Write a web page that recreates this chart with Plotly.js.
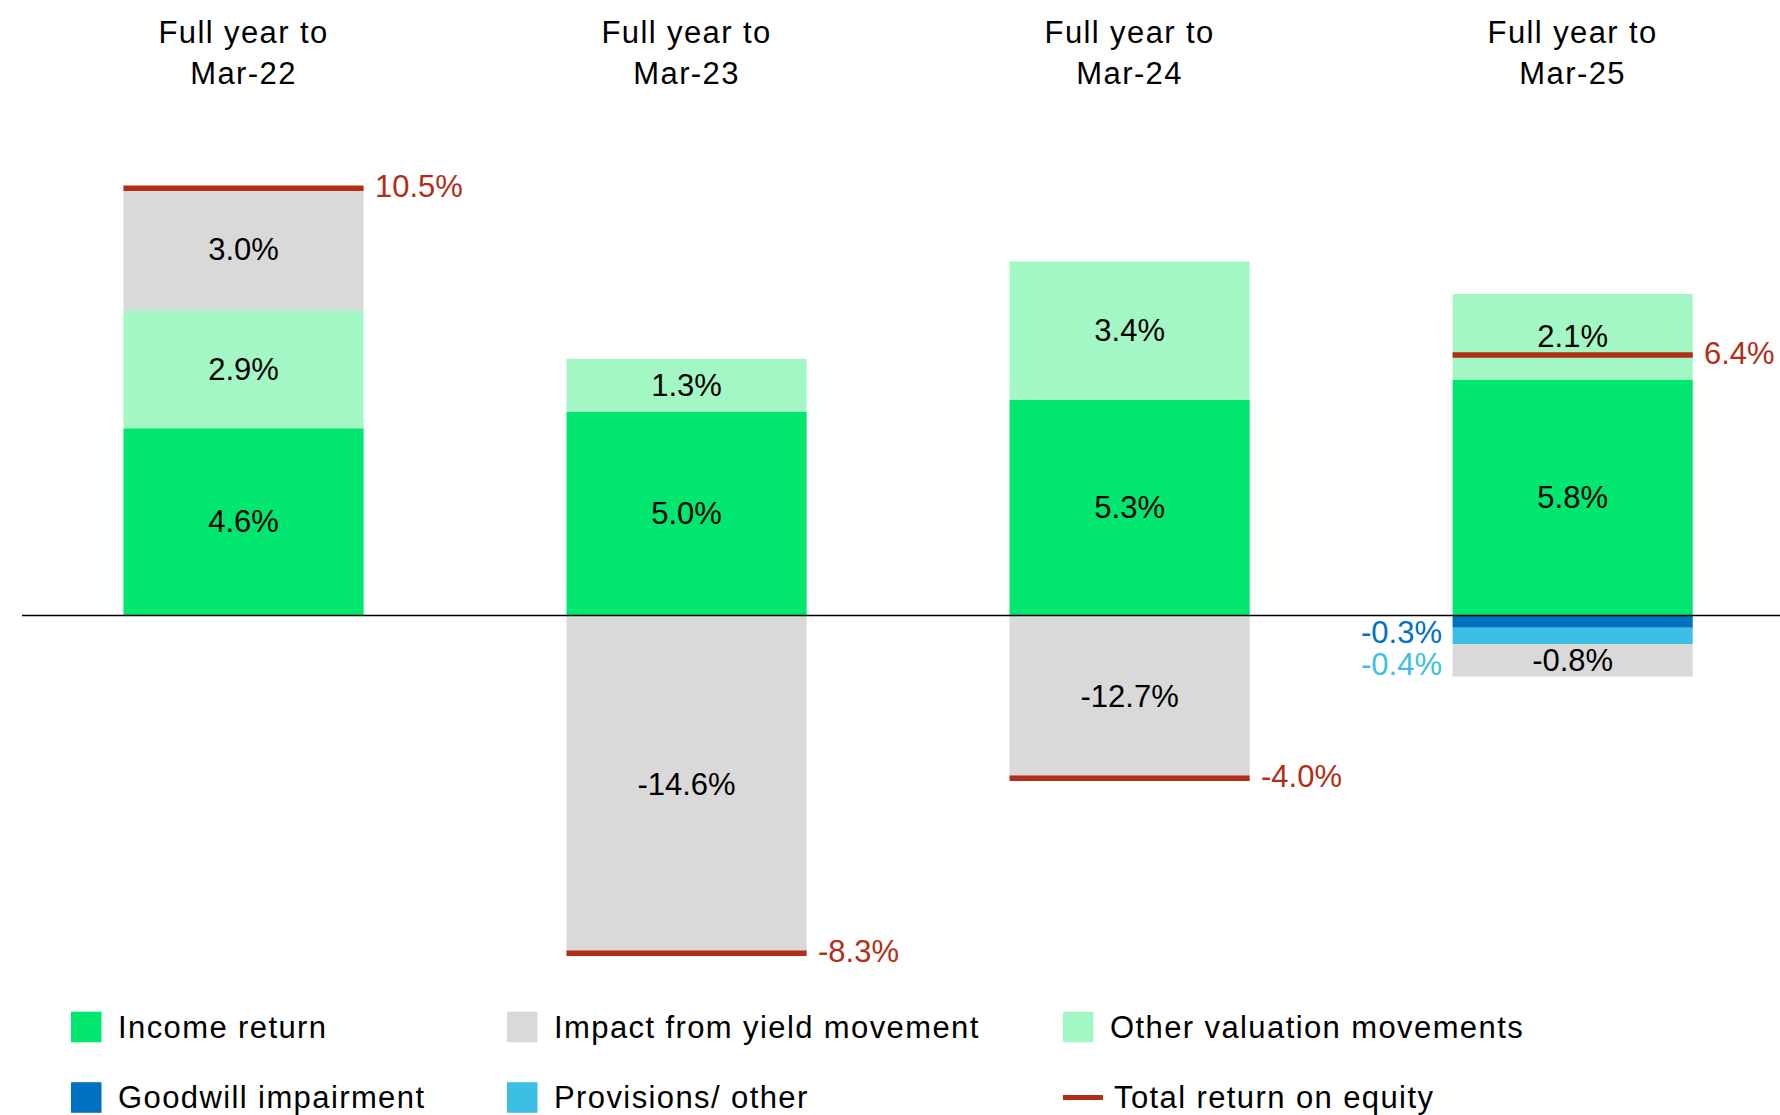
<!DOCTYPE html>
<html>
<head>
<meta charset="utf-8">
<script src="https://cdn.plot.ly/plotly-3.0.1.min.js"></script>
<style>
html,body{margin:0;padding:0;background:#ffffff;}
#chart{width:1780px;height:1115px;}
.xtick text{letter-spacing:1.4px;}
g.annotation[data-index="0"] text,
g.annotation[data-index="1"] text,
g.annotation[data-index="2"] text,
g.annotation[data-index="3"] text,
g.annotation[data-index="4"] text,
g.annotation[data-index="5"] text{letter-spacing:1.4px;}
</style>
</head>
<body>
<div id="chart"></div>
<script>
// ---------------- DATA ----------------
const categories = ["Full year to<br>Mar-22", "Full year to<br>Mar-23", "Full year to<br>Mar-24", "Full year to<br>Mar-25"];
const incomeReturn = [4.6, 5.0, 5.3, 5.8];
const otherValuation = [2.9, 1.3, 3.4, 2.1];
const yieldImpact = [3.0, -14.6, -12.7, -0.8];
const goodwillImpairment = [0, 0, 0, -0.3];
const provisionsOther = [0, 0, 0, -0.4];
const totalReturn = [10.5, -8.3, -4.0, 6.4];
const seriesNames = ["Income return", "Impact from yield movement", "Other valuation movements",
                     "Goodwill impairment", "Provisions/ other", "Total return on equity"];

// ---------------- STYLE ----------------
const COLORS = {
  income: "#00E66E",
  yield: "#D9D9D9",
  other: "#A3F7C5",
  goodwill: "#0070C0",
  provisions: "#3CBFE4",
  total: "#B22E17"
};
const FONT = '"Liberation Sans", Arial, Helvetica, sans-serif';
const FS = 31;
const W = 1780, H = 1115;
const M = {l: 22, r: 0, t: 91, b: 125};
const plotW = W - M.l - M.r, plotH = H - M.t - M.b;
const zeroPx = 615.5, pxPerPct = 40.7;
const yTop = (zeroPx - M.t) / pxPerPct;
const yBot = -((H - M.b) - zeroPx) / pxPerPct;
const xRange = [-0.5, 3.468];
const bargap = 0.458;
const barPx = (1 - bargap) * plotW / (xRange[1] - xRange[0]);

const fmt = v => v.toFixed(1) + "%";
const nz = arr => arr.map(v => v === 0 ? null : v);

// Where the total return is negative, the yield bar is drawn from zero down to the total (net view)
const yieldDrawn = yieldImpact.map((v, i) =>
  (v < 0 && totalReturn[i] < 0) ? totalReturn[i] - goodwillImpairment[i] - provisionsOther[i] : v);

// ---------------- LEGEND (custom, 2 rows x 3 columns) ----------------
const annotations = [];
const xp = px => (px - M.l) / plotW;
const yp = py => ((H - M.b) - py) / plotH;
const legendCols = [71, 507, 1063];
const legendRows = [1027, 1097.5];
const legendItems = [
  {name: seriesNames[0], color: COLORS.income, kind: "box"},
  {name: seriesNames[1], color: COLORS.yield, kind: "box"},
  {name: seriesNames[2], color: COLORS.other, kind: "box"},
  {name: seriesNames[3], color: COLORS.goodwill, kind: "box"},
  {name: seriesNames[4], color: COLORS.provisions, kind: "box"},
  {name: seriesNames[5], color: COLORS.total, kind: "line"}
];
const shapes = [
  {type: "line", xref: "paper", x0: 0, x1: 1, yref: "y", y0: 0, y1: 0, layer: "above",
   line: {color: "#000000", width: 1.5}}
];
legendItems.forEach((it, k) => {
  const cx = legendCols[k % 3], cy = legendRows[Math.floor(k / 3)];
  if (it.kind === "box") {
    shapes.push({type: "rect", xref: "paper", yref: "paper",
      x0: xp(cx), x1: xp(cx + 30.5), y0: yp(cy - 15.3), y1: yp(cy + 15.3),
      fillcolor: it.color, line: {width: 0}});
  } else {
    shapes.push({type: "line", xref: "paper", yref: "paper",
      x0: xp(cx), x1: xp(cx + 40), y0: yp(cy), y1: yp(cy),
      line: {color: it.color, width: 5}});
  }
  annotations.push({xref: "paper", yref: "paper", x: xp(cx + (it.kind === "box" ? 45 : 49)), y: yp(cy),
    xanchor: "left", yanchor: "middle", align: "left", showarrow: false, text: it.name,
    font: {family: FONT, size: FS, color: "#000000"}});
});

// ---------------- TRACES ----------------
const barCommon = {
  type: "bar",
  x: categories,
  textposition: "inside",
  insidetextanchor: "middle",
  textangle: 0,
  constraintext: "none",
  cliponaxis: false,
  insidetextfont: {family: FONT, size: FS, color: "#000000"},
  showlegend: false,
  hoverinfo: "skip"
};

const traces = [
  Object.assign({}, barCommon, {name: seriesNames[0], y: incomeReturn, text: incomeReturn.map(fmt),
    marker: {color: COLORS.income, line: {width: 0}}}),
  Object.assign({}, barCommon, {name: seriesNames[2], y: otherValuation, text: otherValuation.map(fmt),
    marker: {color: COLORS.other, line: {width: 0}}}),
  Object.assign({}, barCommon, {name: seriesNames[3], y: nz(goodwillImpairment), text: goodwillImpairment.map(() => ""),
    marker: {color: COLORS.goodwill, line: {width: 0}}}),
  Object.assign({}, barCommon, {name: seriesNames[4], y: nz(provisionsOther), text: provisionsOther.map(() => ""),
    marker: {color: COLORS.provisions, line: {width: 0}}}),
  Object.assign({}, barCommon, {name: seriesNames[1], y: yieldDrawn, text: yieldImpact.map(fmt),
    marker: {color: COLORS.yield, line: {width: 0}}}),
  {
    type: "scatter", mode: "markers", name: seriesNames[5],
    x: categories, y: totalReturn, cliponaxis: false, showlegend: false, hoverinfo: "skip",
    // line-ew symbol length is 1.4 x marker size
    marker: {symbol: "line-ew", size: barPx / 1.4, color: COLORS.total, line: {color: COLORS.total, width: 5.5}}
  }
];

totalReturn.forEach((v, i) => {
  annotations.push({x: categories[i], y: v, xref: "x", yref: "y", text: fmt(v), showarrow: false,
    xanchor: "left", yanchor: "middle", xshift: barPx / 2 + 9, yshift: 2,
    font: {family: FONT, size: FS, color: COLORS.total}});
});
goodwillImpairment.forEach((v, i) => {
  if (v === 0) return;
  annotations.push({x: categories[i], y: v / 2, xref: "x", yref: "y", text: fmt(v), showarrow: false,
    xanchor: "right", yanchor: "middle", xshift: -(barPx / 2 + 9), yshift: -11,
    font: {family: FONT, size: FS, color: COLORS.goodwill}});
});
provisionsOther.forEach((v, i) => {
  if (v === 0) return;
  annotations.push({x: categories[i], y: goodwillImpairment[i] + v / 2, xref: "x", yref: "y", text: fmt(v), showarrow: false,
    xanchor: "right", yanchor: "middle", xshift: -(barPx / 2 + 9), yshift: -29,
    font: {family: FONT, size: FS, color: COLORS.provisions}});
});

const layout = {
  width: W, height: H,
  margin: M,
  paper_bgcolor: "#ffffff", plot_bgcolor: "#ffffff",
  barmode: "relative", bargap: bargap,
  showlegend: false, hovermode: false,
  font: {family: FONT, size: FS, color: "#000000"},
  xaxis: {type: "category", side: "top", range: xRange, showgrid: false, zeroline: false,
    showline: false, ticks: "", tickfont: {family: FONT, size: FS, color: "#000000"}, fixedrange: true},
  yaxis: {range: [yBot, yTop], visible: false, showgrid: false, zeroline: false, fixedrange: true},
  shapes: shapes,
  annotations: annotations
};

Plotly.newPlot("chart", traces, layout, {displayModeBar: false, staticPlot: true});
</script>
</body>
</html>
